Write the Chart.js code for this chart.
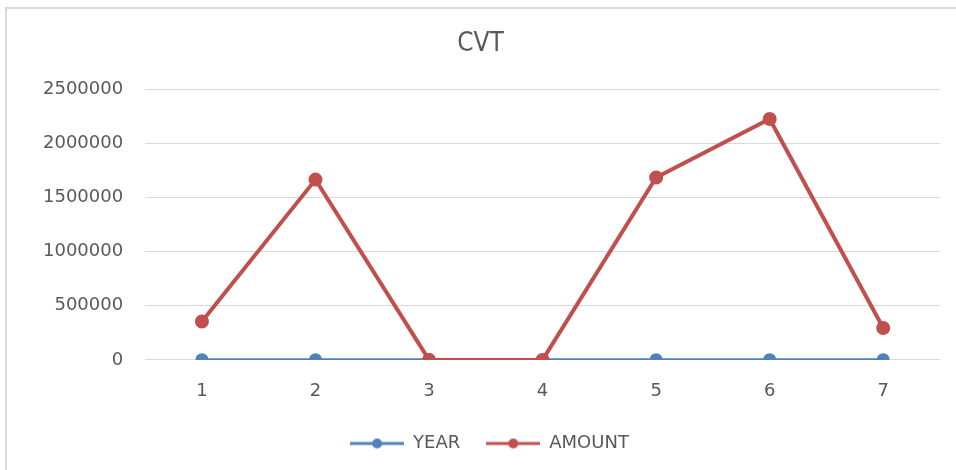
<!DOCTYPE html>
<html>
<head>
<meta charset="utf-8">
<script src="https://cdn.jsdelivr.net/npm/chart.js@4/dist/chart.umd.min.js"></script>
<style>
  html, body { margin: 0; padding: 0; background: #fff; overflow: hidden; }
  #wrap { position: relative; width: 956px; height: 470px; }
  #frame { position: absolute; left: 5px; top: 7px; width: 1000px; height: 520px; border: 2px solid #d9d9d9; }
  #c { position: absolute; left: 0; top: 0; }
</style>
</head>
<body>
<div id="wrap">
  <div id="frame"></div>
  <canvas id="c" width="956" height="470"></canvas>
</div>
<script>
const categories = ['1', '2', '3', '4', '5', '6', '7'];
const yearValues = [2013, 2014, 2015, 2016, 2017, 2018, 2019];
const amountValues = [355000, 1665000, 0, 0, 1685000, 2225000, 295000];
const yTicks = [0, 500000, 1000000, 1500000, 2000000, 2500000];

const BLUE = '#4f81bd';
const RED = '#c0504d';

function legendIcon(color) {
  const cv = document.createElement('canvas');
  cv.width = 54; cv.height = 14;
  const g = cv.getContext('2d');
  g.strokeStyle = color; g.lineWidth = 3;
  g.beginPath(); g.moveTo(0, 7); g.lineTo(54, 7); g.stroke();
  g.fillStyle = color;
  g.beginPath(); g.arc(27, 7, 5, 0, Math.PI * 2); g.fill();
  return cv;
}

const legendShift = {
  id: 'legendShift',
  afterLayout(chart) {
    const lg = chart.legend;
    if (lg) { lg.left += 9; lg.right += 9; }
  }
};

new Chart(document.getElementById('c'), {
  type: 'line',
  data: {
    labels: categories,
    datasets: [
      {
        label: 'YEAR', data: yearValues, borderColor: BLUE, backgroundColor: BLUE,
        borderWidth: 3, pointRadius: 5, pointHoverRadius: 5, pointStyle: 'circle',
        order: 1, tension: 0
      },
      {
        label: 'AMOUNT', data: amountValues, borderColor: RED, backgroundColor: RED,
        borderWidth: 4, pointRadius: 5, pointHoverRadius: 5, pointStyle: 'circle',
        order: 0, tension: 0
      }
    ]
  },
  plugins: [legendShift],
  options: {
    responsive: false,
    animation: false,
    layout: { padding: { left: 21, right: 16, top: 0, bottom: 7.5 } },
    plugins: {
      title: {
        display: true, text: 'CVT', color: '#595959',
        font: { family: '"DejaVu Sans Condensed", "Liberation Sans Narrow", Roboto, sans-serif', size: 26, weight: 'normal' },
        padding: { top: 29, bottom: 29 }
      },
      legend: {
        position: 'bottom',
        labels: {
          color: '#595959',
          font: { family: '"DejaVu Sans", sans-serif', size: 18 },
          usePointStyle: true,
          pointStyleWidth: 54,
          padding: 26,
          sort: (a, b) => a.datasetIndex - b.datasetIndex,
          generateLabels: (chart) => chart.data.datasets.map((ds, i) => ({
            text: ds.label,
            datasetIndex: i,
            pointStyle: legendIcon(ds.borderColor),
            fillStyle: ds.borderColor,
            strokeStyle: ds.borderColor,
            lineWidth: 0,
            fontColor: '#595959',
            hidden: false
          }))
        }
      },
      tooltip: { enabled: false }
    },
    scales: {
      x: {
        offset: true,
        grid: { display: false, drawTicks: false },
        border: { display: false },
        afterFit: (scale) => { scale.height -= 15; },
        ticks: {
          color: '#595959', padding: 21,
          font: { family: '"DejaVu Sans", sans-serif', size: 18 }
        }
      },
      y: {
        min: 0, max: 2500000,
        afterBuildTicks: (scale) => { scale.ticks = yTicks.map(v => ({ value: v })); },
        grid: { color: '#d9d9d9', lineWidth: 1, drawTicks: false },
        border: { display: false },
        ticks: {
          color: '#595959', padding: 22,
          font: { family: '"DejaVu Sans", sans-serif', size: 18 },
          callback: (v) => String(v)
        }
      }
    }
  }
});
</script>
</body>
</html>
